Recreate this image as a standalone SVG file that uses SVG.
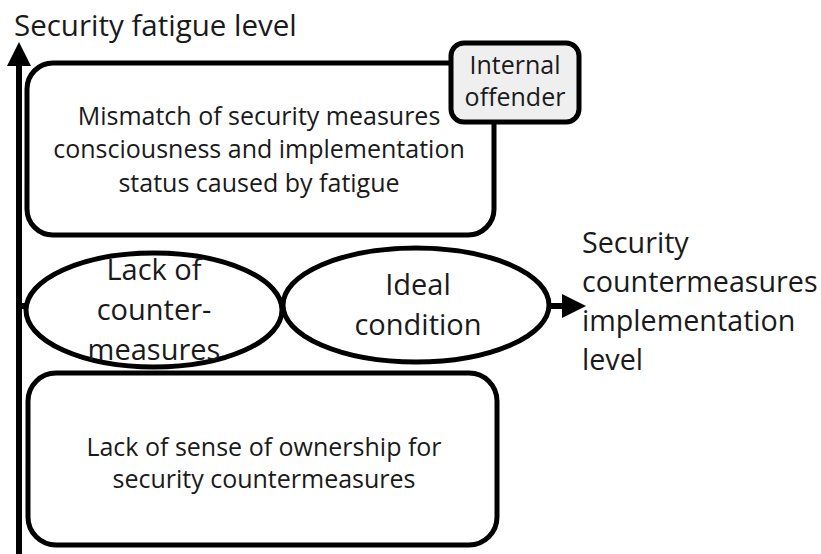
<svg xmlns="http://www.w3.org/2000/svg" width="821" height="554" viewBox="0 0 821 554">
<defs>
<style>
text{font-family:"Open Sans","Noto Sans","Liberation Sans",sans-serif;fill:#1a1a1a}
.box{fill:#fff;stroke:#000;stroke-width:5}
.t{font-size:25px;text-anchor:middle}
.e{font-size:29px;text-anchor:middle}
.l{font-size:28.7px}
.axis{stroke:#000;stroke-width:6;fill:none}
</style>
<marker id="ah" viewBox="0 0 10 10" refX="0" refY="5" markerWidth="4" markerHeight="4" orient="auto" markerUnits="strokeWidth">
<path d="M0,0 L10,5 L0,10 z" fill="#000"/>
</marker>
</defs>
<rect width="821" height="554" fill="#fff"/>
<g id="connectors">
<line class="axis" x1="19" y1="554" x2="19" y2="66" marker-end="url(#ah)"/>
<line class="axis" x1="19" y1="306" x2="562" y2="306" marker-end="url(#ah)"/>
</g>
<text x="14" y="36" style="font-size:29.5px">Security fatigue level</text>
<g id="mismatch">
<rect class="box" x="27" y="63" width="467" height="172" rx="26"/>
<text class="t" x="259" y="125">Mismatch of security measures</text>
<text class="t" x="259" y="158">consciousness and implementation</text>
<text class="t" x="259" y="192">status caused by fatigue</text>
</g>
<g id="internal-offender">
<rect x="451" y="43" width="128" height="79" rx="13" fill="#efefef" stroke="#000" stroke-width="5"/>
<text class="t" x="515" y="74">Internal</text>
<text class="t" x="515" y="106">offender</text>
</g>
<g id="lack-countermeasures">
<ellipse class="box" cx="154" cy="310" rx="128" ry="57"/>
<text class="e" x="154" y="280">Lack of</text>
<text class="e" x="154" y="320">counter-</text>
<text class="e" x="154" y="360">measures</text>
</g>
<g id="ideal">
<ellipse class="box" cx="416" cy="305" rx="133" ry="57"/>
<text class="e" x="418" y="295">Ideal</text>
<text class="e" x="418" y="335">condition</text>
</g>
<g id="ownership">
<rect class="box" x="28" y="373" width="469" height="172" rx="28"/>
<text class="t" x="264" y="456">Lack of sense of ownership for</text>
<text class="t" x="264" y="488">security countermeasures</text>
</g>
<g id="x-label">
<text class="l" x="582" y="253">Security</text>
<text class="l" x="582" y="292">countermeasures</text>
<text class="l" x="582" y="331">implementation</text>
<text class="l" x="582" y="370">level</text>
</g>
</svg>
